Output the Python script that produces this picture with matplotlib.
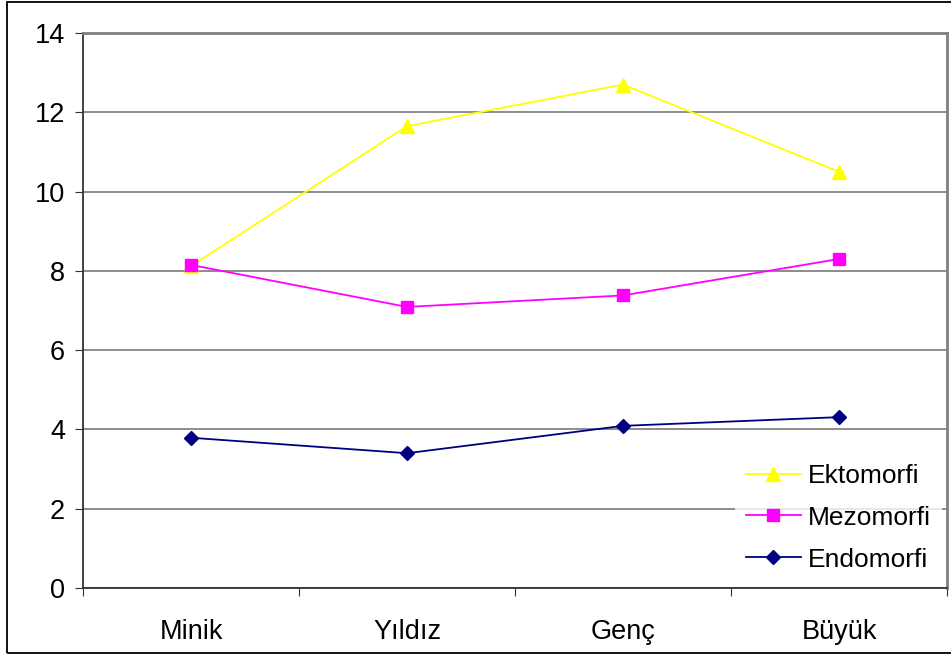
import matplotlib
matplotlib.use("Agg")
import matplotlib.pyplot as plt
from matplotlib.patches import Rectangle

plt.rcParams['font.family'] = ['Liberation Sans', 'DejaVu Sans']

categories = ["Minik", "Yıldız", "Genç", "Büyük"]
ektomorfi = [8.12, 11.65, 12.70, 10.50]
mezomorfi = [8.15, 7.09, 7.38, 8.30]
endomorfi = [3.79, 3.40, 4.09, 4.31]
yticks = [0, 2, 4, 6, 8, 10, 12, 14]

W, H = 951, 657
fig = plt.figure(figsize=(W / 100, H / 100), dpi=100)
fig.patch.set_facecolor("white")

# outer frame
fig.patches.append(Rectangle((7 / W, 1 - 653 / H), 1.0, (653 - 2) / H,
                             transform=fig.transFigure, fill=False,
                             edgecolor="black", linewidth=1.3, zorder=0))

ax = fig.add_axes([83 / W, 1 - 588 / H, (947 - 83) / W, (588 - 33) / H])
x = list(range(len(categories)))

ax.plot(x, ektomorfi, color="#FFFF00", marker="^", markersize=10, linewidth=1.3,
        label="Ektomorfi", zorder=3)
ax.plot(x, mezomorfi, color="#FF00FF", marker="s", markersize=8, linewidth=1.3,
        label="Mezomorfi", zorder=3)
ax.plot(x, endomorfi, color="#000080", marker="D", markersize=7.5, linewidth=1.3,
        label="Endomorfi", zorder=3)

FS = 19.5
ax.set_xlim(-0.5, len(categories) - 0.5)
ax.set_ylim(0, 14)
ax.set_yticks(yticks)
ax.set_yticklabels([str(v) for v in yticks], fontsize=FS)
ax.yaxis.grid(True, color="#6e6e6e", linewidth=1.1)
ax.set_axisbelow(True)

ax.set_xticks([i - 0.5 for i in range(len(categories) + 1)])
ax.set_xticklabels([])
ax.set_xticks(x, minor=True)
ax.set_xticklabels(categories, minor=True, fontsize=FS)
ax.tick_params(axis="x", which="minor", length=0, pad=22)
ax.tick_params(axis="x", which="major", length=6, direction="out", color="#333333")
ax.tick_params(axis="y", length=6, direction="out", pad=7, color="#333333")

for s in ["top", "right"]:
    ax.spines[s].set_color("#808080")
    ax.spines[s].set_linewidth(2.0)
for s in ["left", "bottom"]:
    ax.spines[s].set_color("#333333")
    ax.spines[s].set_linewidth(1.3)

leg = ax.legend(loc="upper left", bbox_to_anchor=(722 / W, 1 - 440 / H),
                bbox_transform=fig.transFigure, fontsize=19, frameon=True,
                handlelength=2.1, handletextpad=0.27, labelspacing=0.68,
                borderpad=0.4, fancybox=False)
leg.get_frame().set_facecolor("white")
leg.get_frame().set_edgecolor("white")
leg.get_frame().set_linewidth(0)

fig.savefig("out.png", dpi=100, facecolor="white")
